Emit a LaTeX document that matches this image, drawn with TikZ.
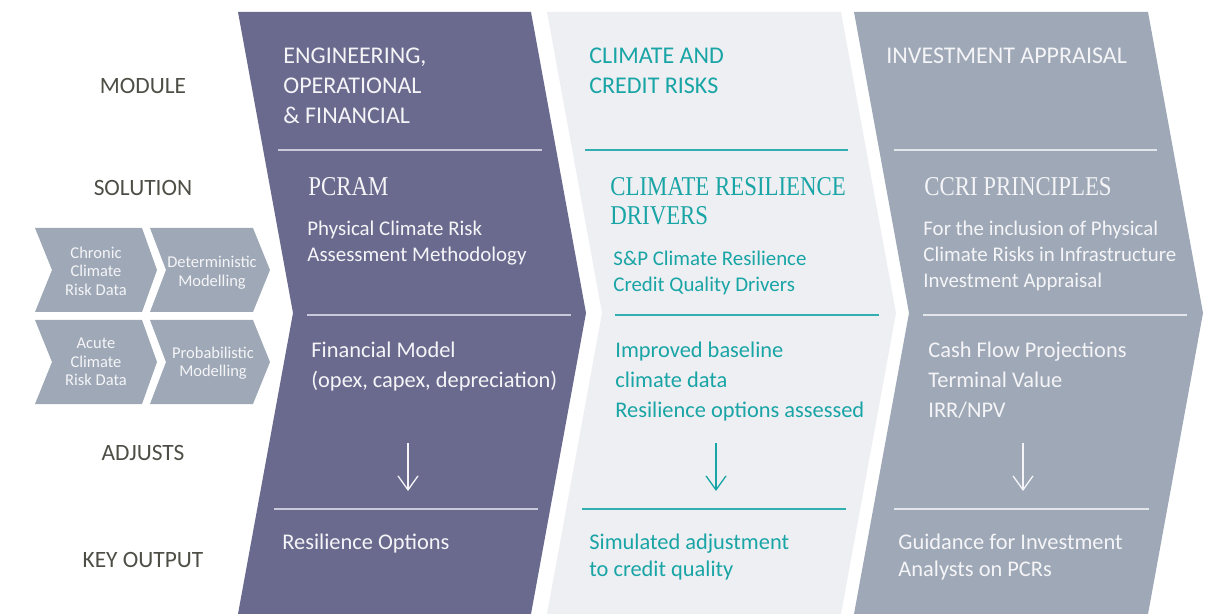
\documentclass[tikz,border=0pt]{standalone}
\usepackage{fontspec}
\setmainfont{Carlito}
\newfontfamily\headfont[FakeStretch=0.84]{Liberation Serif}
\usetikzlibrary{arrows.meta}
\definecolor{Plum}{HTML}{6A6A8F}
\definecolor{Mist}{HTML}{EEEFF3}
\definecolor{Slate}{HTML}{9EA8B6}
\definecolor{Teal}{HTML}{19A4A5}
\definecolor{TealRule}{HTML}{34AFB1}
\definecolor{RowInk}{HTML}{4E4E47}
\definecolor{Snow}{HTML}{F5F5F8}
\definecolor{PlumRule}{HTML}{C9C9DB}
\definecolor{SlateRule}{HTML}{E2E5EA}
\tikzset{
  chev/.style={draw=none},
  rowlab/.style={anchor=base,inner sep=0pt,text=RowInk,font=\fontsize{11.7}{14}\selectfont},
  % multi-line texts sit on the baseline of their last line
  txt/.style={anchor=base west,inner sep=0pt,align=left},
  caps/.style={txt,font=\fontsize{12}{15}\selectfont},
  ttl/.style={txt,font=\headfont\fontsize{13.6}{14.5}\selectfont},
  body/.style={txt,font=\fontsize{10.45}{13}\selectfont},
  item/.style={txt,font=\fontsize{11.2}{15}\selectfont},
  outp/.style={txt,font=\fontsize{11.2}{13.5}\selectfont},
  chip/.style={fill=Slate},
  chiptxt/.style={align=center,inner sep=0pt,text=Snow,font=\fontsize{8.25}{9.3}\selectfont},
  rule/.style={line width=.75pt},
  down/.style={-{Straight Barb[length=7pt,width=10pt]},line width=.65pt}
}
\begin{document}
\begin{tikzpicture}[x=.5pt,y=-.5pt]
  \useasboundingbox (0,0) rectangle (1209,614);

  % the three module chevrons
  \fill[chev,Plum]  (238,12) -- ++(293,0) -- ++(55,301) -- ++(-55,301) -- ++(-293,0) -- ++(55,-301) -- cycle;
  \fill[chev,Mist]  (547,12) -- ++(294,0) -- ++(55,301) -- ++(-55,301) -- ++(-294,0) -- ++(55,-301) -- cycle;
  \fill[chev,Slate] (854,12) -- ++(294,0) -- ++(55,301) -- ++(-55,301) -- ++(-294,0) -- ++(55,-301) -- cycle;

  % input chevrons
  \fill[chip] (35,228) -- (142,228) -- (157,270) -- (142,312) -- (35,312) -- (52,270) -- cycle;
  \fill[chip] (150,228) -- (253,228) -- (270,270) -- (253,312) -- (150,312) -- (166,270) -- cycle;
  \fill[chip] (35,320) -- (142,320) -- (157,362) -- (142,404) -- (35,404) -- (52,362) -- cycle;
  \fill[chip] (150,320) -- (253,320) -- (270,362) -- (253,404) -- (150,404) -- (166,362) -- cycle;
  \node[chiptxt] (chronic) at (96,271) {Chronic\\Climate\\Risk Data};
  \node[chiptxt] (determ) at (212,273) {Deterministic\\Modelling};
  \node[chiptxt] (acute) at (96,362) {Acute\\Climate\\Risk Data};
  \node[chiptxt] (probab) at (213,363) {Probabilistic\\Modelling};

  % row labels
  \node[rowlab] (lmodule) at (143,93.5) {MODULE};
  \node[rowlab] (lsolution) at (143,195.5) {SOLUTION};
  \node[rowlab] (ladjusts) at (143,460.5) {ADJUSTS};
  \node[rowlab] (loutput) at (143,567.5) {KEY OUTPUT};

  % engineering column
  \draw[rule,PlumRule] (278,150) -- (542,150);
  \draw[rule,PlumRule] (307,315) -- (571,315);
  \draw[rule,PlumRule] (274,509) -- (538,509);
  \node[caps,text=Snow] (engmod) at (283,124) {ENGINEERING,\\OPERATIONAL\\\& FINANCIAL};
  \node[ttl,text=Snow] (engsol) at (308,196) {PCRAM};
  \node[body,text=Snow] (engsub) at (307,262) {Physical Climate Risk\\Assessment Methodology};
  \node[item,text=Snow] (engadj) at (311,387) {Financial Model\\(opex, capex, depreciation)};
  \node[outp,text=Snow] (engout) at (282,549) {Resilience Options};
  \coordinate (engtop) at (408,443);
  \coordinate (engbot) at (408,491);
  \draw[down,Snow] (engtop) -- (engbot);

  % credit column
  \draw[rule,TealRule] (585,150) -- (848,150);
  \draw[rule,TealRule] (615,315) -- (879,315);
  \draw[rule,TealRule] (582,509) -- (846,509);
  \node[caps,text=Teal] (crdmod) at (589,94) {CLIMATE AND\\CREDIT RISKS};
  \node[ttl,text=Teal] (crdsol) at (610,225) {CLIMATE RESILIENCE\\DRIVERS};
  \node[body,text=Teal] (crdsub) at (613,292) {S\&P Climate Resilience\\Credit Quality Drivers};
  \node[item,text=Teal] (crdadj) at (615,417) {Improved baseline\\climate data\\Resilience options assessed};
  \node[outp,text=Teal] (crdout) at (589,576) {Simulated adjustment\\to credit quality};
  \coordinate (crdtop) at (716,443);
  \coordinate (crdbot) at (716,491);
  \draw[down,Teal] (crdtop) -- (crdbot);

  % appraisal column
  \draw[rule,SlateRule] (894,150) -- (1157,150);
  \draw[rule,SlateRule] (923,315) -- (1187,315);
  \draw[rule,SlateRule] (894,509) -- (1149,509);
  \node[caps,text=Snow] (invmod) at (886,64) {INVESTMENT APPRAISAL};
  \node[ttl,text=Snow] (invsol) at (924,196) {CCRI PRINCIPLES};
  \node[body,text=Snow] (invsub) at (923,288) {For the inclusion of Physical\\Climate Risks in Infrastructure\\Investment Appraisal};
  \node[item,text=Snow] (invadj) at (928,417) {Cash Flow Projections\\Terminal Value\\IRR/NPV};
  \node[outp,text=Snow] (invout) at (898,576) {Guidance for Investment\\Analysts on PCRs};
  \coordinate (invtop) at (1023,443);
  \coordinate (invbot) at (1023,491);
  \draw[down,Snow] (invtop) -- (invbot);
\end{tikzpicture}
\end{document}
